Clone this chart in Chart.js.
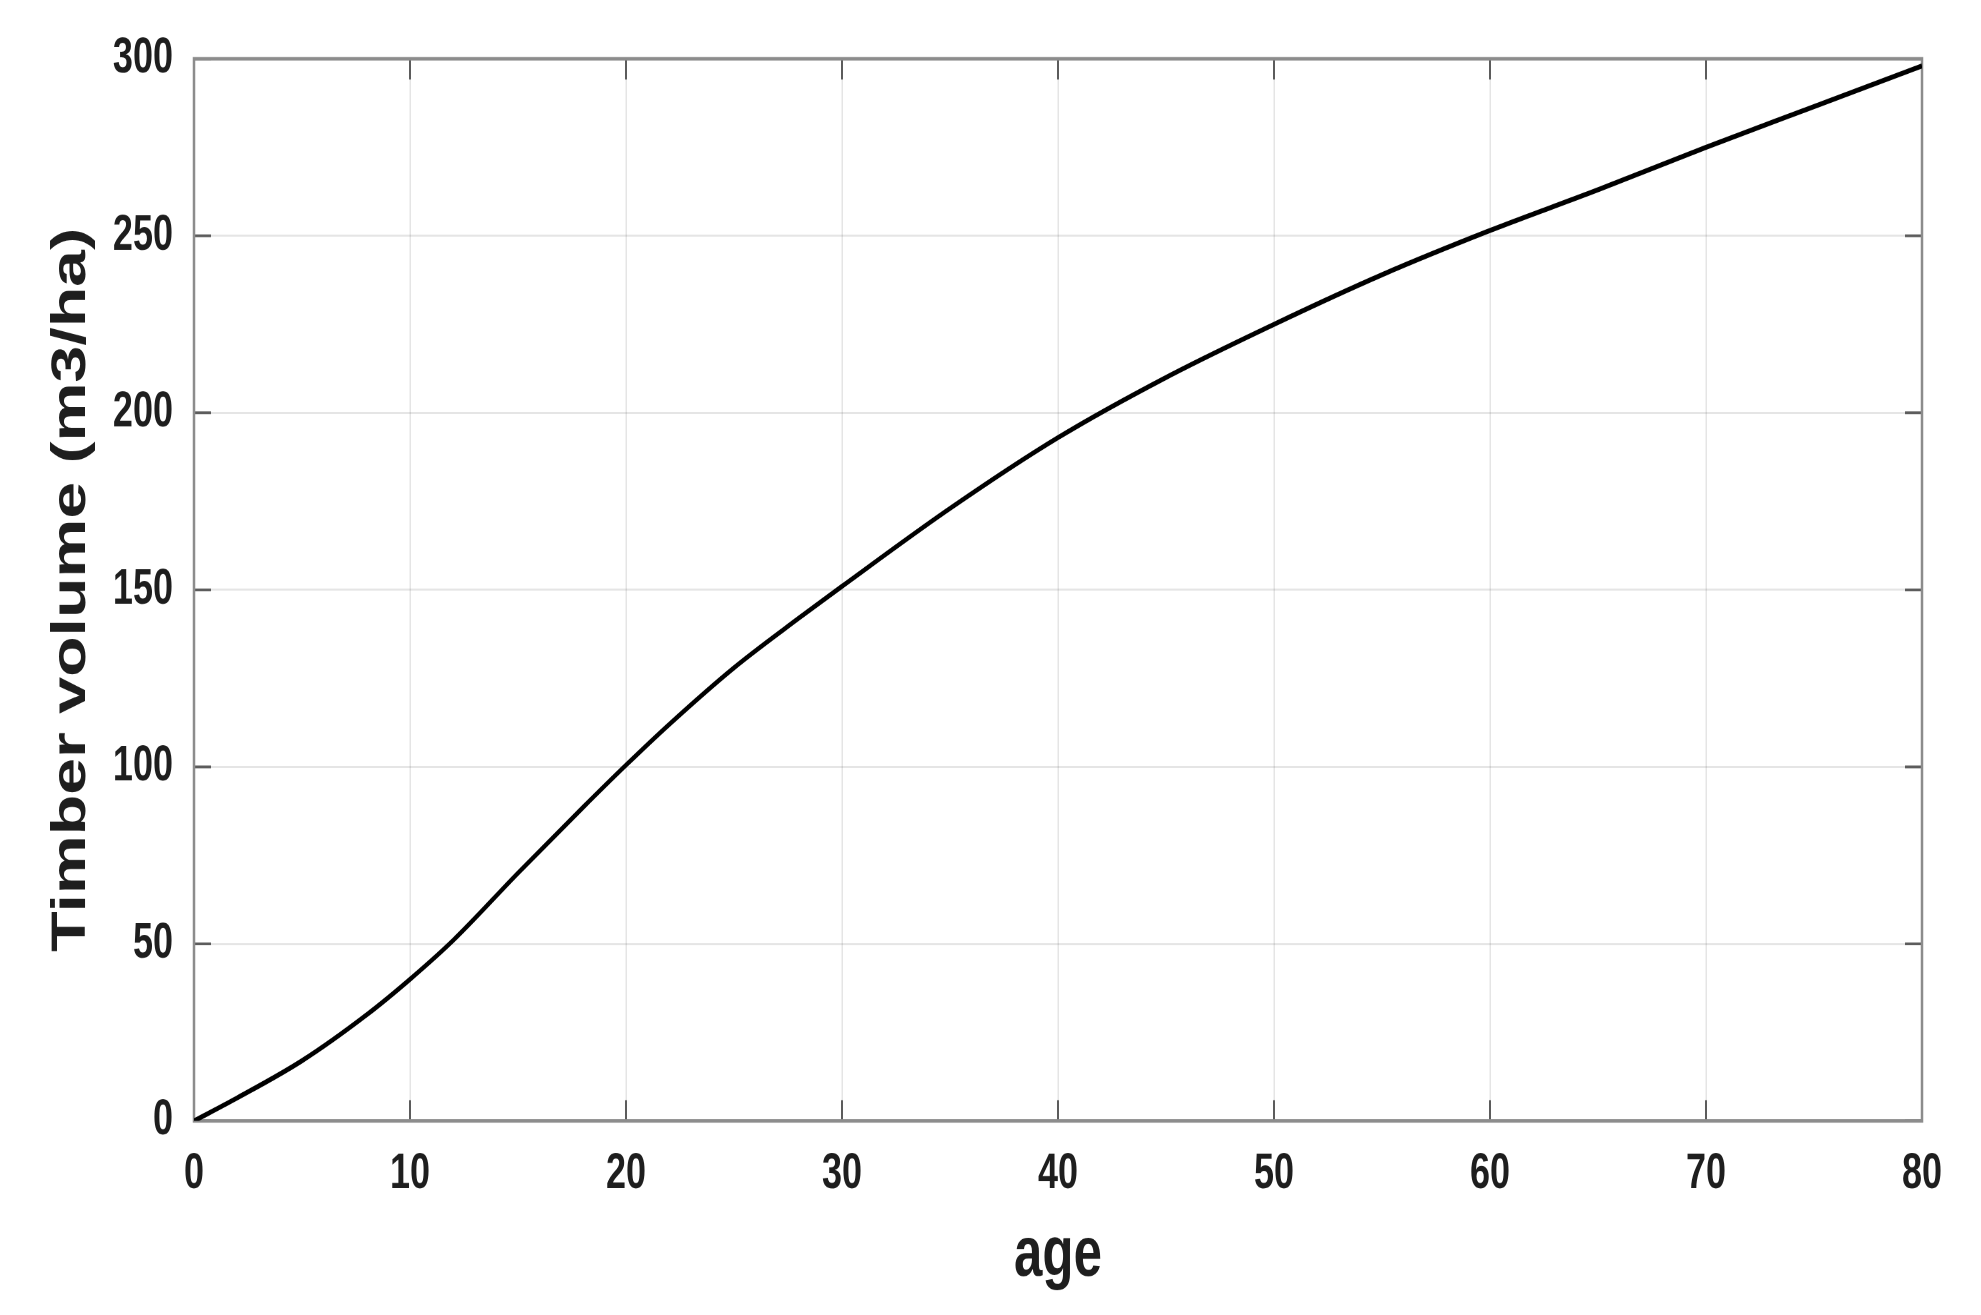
<!DOCTYPE html>
<html>
<head>
<meta charset="utf-8">
<script src="https://cdn.jsdelivr.net/npm/chart.js@4.4.0/dist/chart.umd.min.js"></script>
<style>
  html { overflow: hidden; }
  html, body { margin: 0; padding: 0; background: #fff; width: 1981px; height: 1315px; }
  /* the original figure is stretched vertically, so draw flat and stretch the box */
  #wrap { width: 1981px; height: 953px; transform: scaleY(1.3799); transform-origin: 0 0; }
</style>
</head>
<body>
<div id="wrap"><canvas id="growth" width="1981" height="953"></canvas></div>
<script>
// age (years) and timber volume (m3/ha)
var ages    = [0, 2, 5, 8, 10, 12, 15, 18, 20, 22, 25, 28, 30, 35, 40, 45, 50, 55, 60, 65, 70, 75, 80];
var volumes = [0, 6.5, 17, 30, 40, 51, 70, 88.5, 100.5, 112, 128, 142, 151, 173, 193, 210, 225, 239, 251.5, 263, 275, 286.5, 298];

var xTicks = [0, 10, 20, 30, 40, 50, 60, 70, 80];
var yTicks = [0, 50, 100, 150, 200, 250, 300];

var textColor = "#1e1e1e";

// MATLAB style box with inward ticks on all four sides
const boxPlugin = {
  id: "boxPlugin",
  beforeDatasetsDraw(chart) {
    const ctx = chart.ctx;
    const a = chart.chartArea;
    const x = chart.scales.x;
    const y = chart.scales.y;
    ctx.save();
    ctx.strokeStyle = "#5c5c5c";
    ctx.lineWidth = 2;
    ctx.beginPath();
    xTicks.forEach(function (v) {
      const px = x.getPixelForValue(v);
      ctx.moveTo(px, a.bottom); ctx.lineTo(px, a.bottom - 15);
      ctx.moveTo(px, a.top); ctx.lineTo(px, a.top + 15);
    });
    yTicks.forEach(function (v) {
      const py = y.getPixelForValue(v);
      ctx.moveTo(a.left, py); ctx.lineTo(a.left + 17, py);
      ctx.moveTo(a.right, py); ctx.lineTo(a.right - 17, py);
    });
    ctx.stroke();
    ctx.strokeStyle = "#8c8c8c";
    ctx.lineWidth = 2.5;
    ctx.strokeRect(a.left, a.top, a.right - a.left, a.bottom - a.top);
    ctx.restore();
  }
};

new Chart(document.getElementById("growth"), {
  type: "line",
  data: {
    datasets: [{
      data: ages.map(function (a, i) { return { x: a, y: volumes[i] }; }),
      borderColor: "#000000",
      borderWidth: 3.6,
      pointRadius: 0,
      cubicInterpolationMode: "monotone",
      fill: false
    }]
  },
  options: {
    responsive: false,
    devicePixelRatio: 2,
    animation: false,
    layout: { padding: { top: 42, right: 59, bottom: 0, left: 0 } },
    plugins: { legend: { display: false }, tooltip: { enabled: false } },
    scales: {
      x: {
        type: "linear",
        min: 0,
        max: 80,
        afterBuildTicks: function (s) { s.ticks = xTicks.map(function (v) { return { value: v }; }); },
        afterFit: function (s) { s.height = 140.7; },
        ticks: {
          color: textColor,
          padding: 17,
          maxRotation: 0,
          font: { family: "'Liberation Sans', Arial, sans-serif", size: 36, weight: "bold" }
        },
        grid: { color: "rgba(0,0,0,0.1)", lineWidth: 1.5, drawTicks: false },
        border: { display: false },
        title: {
          display: true,
          text: "age",
          color: textColor,
          padding: { top: 0, bottom: 12 },
          font: { family: "'Liberation Sans', Arial, sans-serif", size: 51, weight: "bold" }
        }
      },
      y: {
        type: "linear",
        min: 0,
        max: 300,
        afterBuildTicks: function (s) { s.ticks = yTicks.map(function (v) { return { value: v }; }); },
        afterFit: function (s) { s.width = 194; },
        ticks: {
          color: textColor,
          padding: 21,
          font: { family: "'Liberation Sans', Arial, sans-serif", size: 36, weight: "bold" }
        },
        grid: { color: "rgba(0,0,0,0.1)", lineWidth: 1.5, drawTicks: false },
        border: { display: false },
        title: {
          display: true,
          text: "Timber volume (m3/ha)",
          color: textColor,
          padding: { top: 43, bottom: 0 },
          font: { family: "'Liberation Sans', Arial, sans-serif", size: 48, weight: "bold" }
        }
      }
    }
  },
  plugins: [boxPlugin]
});
</script>
</body>
</html>
